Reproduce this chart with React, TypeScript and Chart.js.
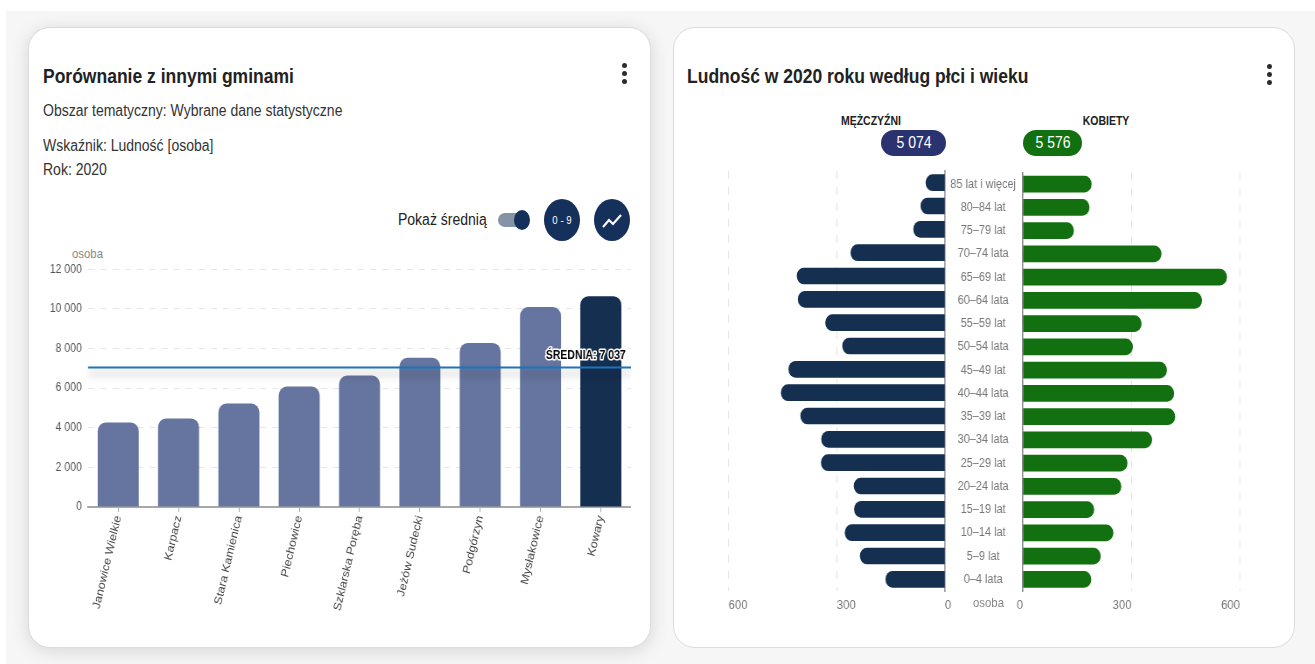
import React, { useEffect, useRef } from "react";
import { Chart, registerables } from "chart.js";

Chart.register(...registerables);

const gminy = ["Janowice Wielkie", "Karpacz", "Stara Kamienica", "Piechowice", "Szklarska Poręba", "Jeżów Sudecki", "Podgórzyn", "Mysłakowice", "Kowary"];
const ludnosc = [4270, 4470, 5220, 6075, 6630, 7530, 8280, 10090, 10640];
const srednia = 7037;
const wiek = ["85 lat i więcej", "80–84 lat", "75–79 lat", "70–74 lata", "65–69 lat", "60–64 lata", "55–59 lat", "50–54 lata", "45–49 lat", "40–44 lata", "35–39 lat", "30–34 lata", "25–29 lat", "20–24 lata", "15–19 lat", "10–14 lat", "5–9 lat", "0–4 lata"];
const mezczyzni = [53, 67, 87, 261, 410, 407, 331, 284, 433, 454, 400, 342, 343, 252, 251, 277, 235, 164];
const kobiety = [189, 183, 140, 382, 563, 494, 327, 303, 397, 417, 420, 356, 288, 271, 196, 249, 214, 188];
const sumaM = "5 074";
const sumaK = "5 576";

// The reference is horizontally squeezed: everything is laid out wider and compressed by K.
const K = 0.875;
const SANS = '"Liberation Sans", Arial, sans-serif';
const fmt = (v: number) => String(v).replace(/\B(?=(\d{3})+$)/g, " ");

function useChart(make: (c: HTMLCanvasElement) => Chart) {
  const ref = useRef<HTMLCanvasElement>(null);
  useEffect(() => {
    const chart = make(ref.current!);
    return () => chart.destroy();
  }, []);
  return ref;
}

const avgPlugin = {
  id: "avgLine",
  afterDatasetsDraw(chart: any) {
    const { ctx, chartArea, scales } = chart;
    const y = scales.y.getPixelForValue(srednia);
    ctx.save();
    ctx.shadowColor = "rgba(0,0,0,0.35)";
    ctx.shadowBlur = 9;
    ctx.shadowOffsetY = 6;
    ctx.strokeStyle = "#1b75bb";
    ctx.lineWidth = 2;
    ctx.beginPath();
    ctx.moveTo(chartArea.left, y);
    ctx.lineTo(chartArea.right, y);
    ctx.stroke();
    ctx.restore();
    ctx.save();
    ctx.font = `bold 12px ${SANS}`;
    ctx.textAlign = "right";
    ctx.textBaseline = "middle";
    ctx.lineJoin = "round";
    ctx.lineWidth = 3;
    ctx.strokeStyle = "#fff";
    const label = `ŚREDNIA: ${fmt(srednia)}`;
    ctx.strokeText(label, chartArea.right - 6, y - 12);
    ctx.fillStyle = "#000";
    ctx.fillText(label, chartArea.right - 6, y - 12);
    ctx.restore();
  },
};

function makeCompare(c: HTMLCanvasElement) {
  return new Chart(c, {
    type: "bar",
    data: {
      labels: gminy,
      datasets: [{
        data: ludnosc,
        backgroundColor: gminy.map((_, i) => (i === gminy.length - 1 ? "#152f50" : "#66759f")),
        borderRadius: 9,
        categoryPercentage: 0.68,
        barPercentage: 1,
      }],
    },
    options: {
      responsive: false,
      animation: false,
      devicePixelRatio: 1,
      layout: { padding: { top: 13 } },
      plugins: { legend: { display: false }, tooltip: { enabled: false } },
      scales: {
        x: {
          afterFit: (s: any) => { s.height = 133; },
          border: { color: "#a8a8a8", width: 2 },
          grid: { offset: false, drawOnChartArea: false, drawTicks: true, tickLength: 5, color: "#a8a8a8" },
          ticks: { minRotation: 75, maxRotation: 75, autoSkip: false, padding: 2, color: "#444", font: { family: SANS, size: 12.5 } },
        },
        y: {
          min: 0,
          max: 12000,
          afterFit: (s: any) => { s.width = 48 / K; },
          border: { display: false, dash: [7, 7] },
          grid: { color: "#e6e6e6", drawTicks: false },
          ticks: { stepSize: 2000, padding: 7, color: "#555", font: { family: SANS, size: 12 }, callback: (v: any) => fmt(Number(v)) },
        },
      },
    } as any,
    plugins: [avgPlugin],
  });
}

function pyramid(c: HTMLCanvasElement, values: number[], color: string, left: boolean) {
  return new Chart(c, {
    type: "bar",
    data: {
      labels: wiek,
      datasets: [{ data: values, backgroundColor: color, borderRadius: 8, barThickness: 16 }],
    },
    options: {
      indexAxis: "y",
      responsive: false,
      animation: false,
      devicePixelRatio: 1,
      layout: { padding: left ? { top: 6, left: 8.5 / K, right: 15 / K } : { top: 6, right: 10 / K } },
      plugins: { legend: { display: false }, tooltip: { enabled: false } },
      scales: {
        x: {
          min: 0,
          max: 600,
          reverse: left,
          afterFit: (s: any) => { s.height = 34; },
          border: { display: false, dash: [8, 8] },
          grid: { color: "#e2e2e2", drawTicks: false },
          ticks: { stepSize: 300, padding: 7, align: left ? "start" : "end", color: "#777", font: { family: SANS, size: 13 } },
        },
        y: {
          position: left ? "right" : "left",
          afterFit: (s: any) => { s.width = left ? 0 : 78 / K; },
          border: { color: "#8a8a8a", width: 1.5 },
          grid: { display: false },
          ticks: left
            ? { display: false }
            : { crossAlign: "center", padding: 0, autoSkip: false, color: "#777", font: { family: SANS, size: 12.5 } },
        },
      },
    } as any,
  });
}

const T = ({ x, cy, size, color = "#333", bold, align = "left", children }: any) => (
  <div style={{
    position: "absolute",
    left: align === "center" ? x - 100 : x,
    width: align === "center" ? 200 : undefined,
    textAlign: align,
    top: cy - 12,
    lineHeight: "24px",
    fontSize: size,
    fontWeight: bold ? 700 : 400,
    fontFamily: SANS,
    color,
    whiteSpace: "nowrap",
    transform: `scaleX(${K})`,
    transformOrigin: align === "center" ? "center" : "left",
  }}>{children}</div>
);

const Kebab = ({ x, y }: any) => (
  <>
    {[0, 8, 16].map((d) => (
      <div key={d} style={{ position: "absolute", left: x - 2.5, top: y + d - 2.5, width: 5, height: 5, borderRadius: "50%", background: "#2b2b2b" }} />
    ))}
  </>
);

const box = (l: number, t: number, w: number, h: number, extra: any = {}) => ({
  position: "absolute" as const, left: l, top: t, width: w, height: h, boxSizing: "border-box" as const, ...extra,
});

export default function App() {
  const a = useChart(makeCompare);
  const b = useChart((c) => pyramid(c, mezczyzni, "#152f50", true));
  const d = useChart((c) => pyramid(c, kobiety, "#127010", false));
  const leftCard = { background: "#fff", border: "1px solid #dcdcdc", borderRadius: 22, boxShadow: "0 3px 18px rgba(0,0,0,0.13)" };
  const rightCard = { background: "#fff", border: "1px solid #dcdcdc", borderRadius: 22 };
  return (
    <div style={{ position: "relative", width: 1315, height: 664, overflow: "hidden", background: "#fff" }}>
      <style>{`body{margin:0}`}</style>
      <div style={box(6, 11, 1309, 653, { background: "#f6f6f6", overflow: "hidden" })}>
        <div style={box(22, 16, 623, 621, leftCard)} />
        <div style={box(667, 16, 622, 621, rightCard)} />
      </div>

      <T x={43} cy={76} size={20} bold color="#222">Porównanie z innymi gminami</T>
      <T x={43} cy={111} size={16} color="#333">Obszar tematyczny: Wybrane dane statystyczne</T>
      <T x={43} cy={146} size={16} color="#333">Wskaźnik: Ludność [osoba]</T>
      <T x={43} cy={170} size={16} color="#333">Rok: 2020</T>
      <Kebab x={624.5} y={65} />

      <T x={398} cy={220} size={16} color="#222">Pokaż średnią</T>
      <div style={box(498, 213, 26, 14, { borderRadius: 7, background: "#8593a6" })} />
      <div style={box(514, 210, 16, 20, { borderRadius: "50%", background: "#15305a" })} />
      <div style={box(544, 199, 36, 42, { borderRadius: "50%", background: "#15305a" })} />
      <T x={562} cy={220} size={11} color="#fff" align="center">0 - 9</T>
      <div style={box(594, 199, 36, 42, { borderRadius: "50%", background: "#15305a" })}>
        <svg width="36" height="42" viewBox="0 0 36 42">
          <polyline points="9,28 15,21 19,25 27,16" fill="none" stroke="#fff" strokeWidth="2.2" />
        </svg>
      </div>

      <T x={72} cy={254} size={13} color="#888">osoba</T>
      <canvas ref={a} width={675} height={385} style={box(40, 255, 591, 385, { display: "block" })} />

      <T x={687} cy={76} size={20} bold color="#222">Ludność w 2020 roku według płci i wieku</T>
      <Kebab x={1269} y={66} />
      <T x={871} cy={121} size={12} bold color="#222" align="center">MĘŻCZYŹNI</T>
      <T x={1106} cy={121} size={12} bold color="#222" align="center">KOBIETY</T>
      <div style={box(881, 130, 65, 26, { borderRadius: 13, background: "#2a3270" })} />
      <T x={913.5} cy={143} size={16} color="#fff" align="center">{sumaM}</T>
      <div style={box(1023, 130, 59, 26, { borderRadius: 13, background: "#127010" })} />
      <T x={1052.5} cy={143} size={16} color="#fff" align="center">{sumaK}</T>

      <canvas ref={b} width={274} height={460} style={box(720, 165, 240, 460, { display: "block" })} />
      <canvas ref={d} width={349} height={460} style={box(945, 165, 305, 460, { display: "block" })} />
      <T x={973} cy={603} size={13} color="#888">osoba</T>
    </div>
  );
}
